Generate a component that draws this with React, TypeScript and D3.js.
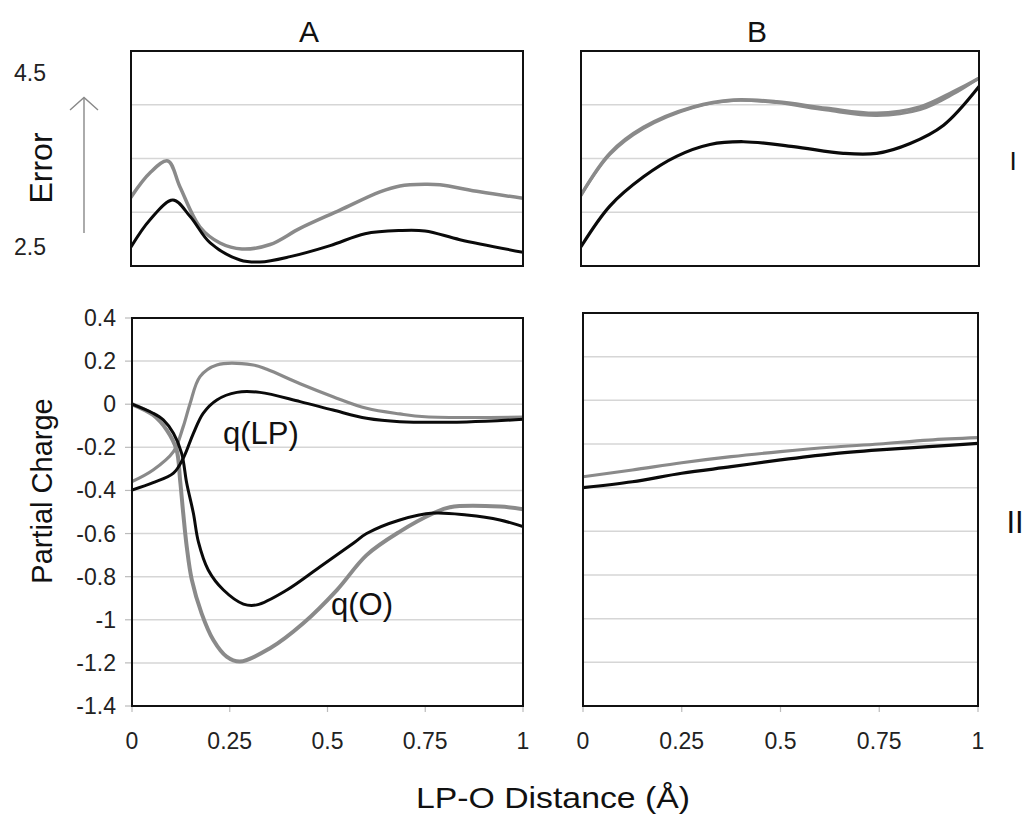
import React from 'react';
import * as d3 from 'd3';

// ---------- data ----------
const xTicks = [0, 0.25, 0.5, 0.75, 1];
const chargeTicks = [0.4, 0.2, 0, -0.2, -0.4, -0.6, -0.8, -1, -1.2, -1.4];
const errorTicks = [2.5, 3, 3.5, 4, 4.5];

// Panel A, row I (Error)
const errA_gray_x = [0, 0.048, 0.094, 0.125, 0.176, 0.227, 0.283, 0.355, 0.431, 0.533, 0.635, 0.686, 0.75, 0.788, 0.89, 1.0];
const errA_gray = [3.14, 3.365, 3.477, 3.235, 2.863, 2.714, 2.658, 2.7, 2.85, 3.02, 3.19, 3.245, 3.26, 3.255, 3.19, 3.13];
const errA_black_x = [0, 0.048, 0.107, 0.151, 0.202, 0.278, 0.329, 0.406, 0.508, 0.597, 0.686, 0.75, 0.839, 1.0];
const errA_black = [2.677, 2.928, 3.114, 2.96, 2.714, 2.556, 2.537, 2.587, 2.69, 2.8, 2.83, 2.826, 2.745, 2.627];

// Panel B, row I (Error)
const errB_gray_x = [0, 0.073, 0.157, 0.282, 0.383, 0.492, 0.617, 0.743, 0.852, 0.935, 1.0];
const errB_gray = [3.16, 3.55, 3.79, 3.98, 4.044, 4.028, 3.967, 3.92, 3.98, 4.12, 4.246];
const errB_gray2 = [3.16, 3.54, 3.78, 3.975, 4.04, 4.02, 3.95, 3.9, 3.955, 4.1, 4.25];
const errB_black_x = [0, 0.073, 0.157, 0.24, 0.324, 0.408, 0.534, 0.659, 0.743, 0.827, 0.911, 1.0];
const errB_black = [2.68, 3.06, 3.33, 3.52, 3.63, 3.656, 3.61, 3.548, 3.548, 3.64, 3.81, 4.17];

// Panel A, row II (Partial charge)
const qLP_gray_x = [0, 0.054, 0.106, 0.131, 0.148, 0.174, 0.217, 0.31, 0.345, 0.43, 0.514, 0.6, 0.685, 0.75, 1.0];
const qLP_gray = [-0.359, -0.305, -0.22, -0.104, 0.0, 0.128, 0.182, 0.182, 0.162, 0.095, 0.035, -0.019, -0.045, -0.058, -0.06];
const qLP_black_x = [0, 0.054, 0.106, 0.131, 0.157, 0.182, 0.217, 0.268, 0.327, 0.43, 0.514, 0.6, 0.685, 0.856, 1.0];
const qLP_black = [-0.398, -0.364, -0.32, -0.251, -0.135, -0.042, 0.02, 0.055, 0.055, 0.012, -0.027, -0.065, -0.081, -0.082, -0.07];
const qO_gray_x = [0, 0.054, 0.089, 0.114, 0.123, 0.131, 0.14, 0.153, 0.178, 0.208, 0.242, 0.276, 0.353, 0.438, 0.524, 0.6, 0.685, 0.771, 0.813, 0.941, 1.0];
const qO_gray = [0, -0.05, -0.12, -0.212, -0.352, -0.506, -0.661, -0.815, -0.97, -1.094, -1.171, -1.194, -1.132, -1.016, -0.862, -0.7, -0.591, -0.506, -0.478, -0.475, -0.487];
const qO_black_x = [0, 0.054, 0.08, 0.106, 0.127, 0.14, 0.157, 0.17, 0.195, 0.234, 0.285, 0.319, 0.396, 0.481, 0.566, 0.6, 0.685, 0.771, 0.856, 0.941, 1.0];
const qO_black = [0, -0.042, -0.073, -0.135, -0.228, -0.367, -0.506, -0.64, -0.769, -0.862, -0.927, -0.931, -0.862, -0.754, -0.645, -0.6, -0.537, -0.505, -0.514, -0.537, -0.568];

// Panel B, row II (Partial charge)
const qB_x = [0, 0.125, 0.25, 0.375, 0.5, 0.625, 0.75, 0.875, 1.0];
const qB_gray = [-0.35, -0.319, -0.286, -0.258, -0.235, -0.215, -0.2, -0.182, -0.171];
const qB_black = [-0.4, -0.373, -0.334, -0.304, -0.273, -0.246, -0.227, -0.212, -0.197];

// ---------- styling ----------
const FONT = '"Liberation Sans", Arial, Helvetica, sans-serif';
const GRAY = '#8a8a8a';
const BLACK = '#0a0a0a';
const GRID = '#d6d6d6';

type Series = { xs: number[]; ys: number[]; color: string; width: number };

function Panel({ x0, x1, y0, y1, domain, ticks, series, yLabels, xLabels }: {
  x0: number; x1: number; y0: number; y1: number; domain: [number, number]; ticks: number[];
  series: Series[]; yLabels?: boolean; xLabels?: boolean;
}) {
  const xs = d3.scaleLinear().domain([0, 1]).range([x0, x1]);
  const ys = d3.scaleLinear().domain(domain).range([y1, y0]);
  const line = d3.line<[number, number]>().x(d => xs(d[0])).y(d => ys(d[1])).curve(d3.curveCatmullRom.alpha(0.5));
  const clipId = `clip-${x0}-${y0}`;
  return (
    <g>
      <defs>
        <clipPath id={clipId}><rect x={x0} y={y0} width={x1 - x0} height={y1 - y0} /></clipPath>
      </defs>
      {ticks.filter(t => t !== domain[0] && t !== domain[1]).map(t => (
        <line key={'g' + t} x1={x0} x2={x1} y1={ys(t)} y2={ys(t)} stroke={GRID} strokeWidth={1.5} />
      ))}
      {yLabels && ticks.map(t => (
        <g key={'yl' + t}>
          <line x1={x0 - 7} x2={x0} y1={ys(t)} y2={ys(t)} stroke="#bbb" strokeWidth={1.2} />
          <text x={x0 - 16} y={ys(t)} dy="0.35em" textAnchor="end" fontSize={23} fontFamily={FONT} fill="#222">{String(+t.toFixed(1))}</text>
        </g>
      ))}
      {xLabels && xTicks.map(t => (
        <g key={'xl' + t}>
          <line x1={xs(t)} x2={xs(t)} y1={y1} y2={y1 + 6} stroke="#bbb" strokeWidth={1.2} />
          <text x={xs(t)} y={y1 + 43} textAnchor="middle" fontSize={23} fontFamily={FONT} fill="#222">{String(t)}</text>
        </g>
      ))}
      <g clipPath={`url(#${clipId})`}>
        {series.map((s, i) => (
          <path key={i} d={line(s.xs.map((x, j) => [x, s.ys[j]] as [number, number])) || ''}
            fill="none" stroke={s.color} strokeWidth={s.width} strokeLinejoin="round" strokeLinecap="round" />
        ))}
      </g>
      <rect x={x0} y={y0} width={x1 - x0} height={y1 - y0} fill="none" stroke="#111" strokeWidth={2} />
    </g>
  );
}

export default function App() {
  const errDomain: [number, number] = [2.5, 4.5];
  const qDomain: [number, number] = [-1.4, 0.4];
  return (
    <svg width={1025} height={817} style={{ position: 'absolute', left: 0, top: 0, background: '#fff' }}>
      <rect width={1025} height={817} fill="#fff" />
      {/* column titles */}
      <text x={309} y={42} textAnchor="middle" fontSize={30} fontFamily={FONT} fill="#111">A</text>
      <text x={757} y={42} textAnchor="middle" fontSize={30} fontFamily={FONT} fill="#111">B</text>
      {/* row labels */}
      <text x={1013} y={170} textAnchor="middle" fontSize={26} fontFamily={FONT} fill="#111">I</text>
      <text x={1015} y={533} textAnchor="middle" fontSize={31} fontFamily={FONT} fill="#111">II</text>

      {/* Error axis annotations */}
      <text x={30} y={73} dy="0.35em" textAnchor="middle" fontSize={23} fontFamily={FONT} fill="#222">4.5</text>
      <text x={30} y={247} dy="0.35em" textAnchor="middle" fontSize={23} fontFamily={FONT} fill="#222">2.5</text>
      <line x1={84} x2={84} y1={233} y2={98} stroke="#888" strokeWidth={1.4} />
      <polyline points="70,110 84,97.5 98,110" fill="none" stroke="#888" strokeWidth={1.4} />
      <text transform="translate(52,168) rotate(-90)" textAnchor="middle" fontSize={32} fontFamily={FONT} fill="#111">Error</text>
      <text transform="translate(52,491) rotate(-90)" textAnchor="middle" fontSize={29} fontFamily={FONT} fill="#111">Partial Charge</text>

      <Panel x0={131} x1={523} y0={51} y1={266} domain={errDomain} ticks={errorTicks}
        series={[
          { xs: errA_gray_x, ys: errA_gray, color: GRAY, width: 3.5 },
          { xs: errA_black_x, ys: errA_black, color: BLACK, width: 3 },
        ]} />
      <Panel x0={581} x1={979} y0={51} y1={266} domain={errDomain} ticks={errorTicks}
        series={[
          { xs: errB_gray_x, ys: errB_gray, color: GRAY, width: 3.5 },
          { xs: errB_gray_x, ys: errB_gray2, color: GRAY, width: 3 },
          { xs: errB_black_x, ys: errB_black, color: BLACK, width: 3.2 },
        ]} />
      <Panel x0={132} x1={523} y0={318} y1={706} domain={qDomain} ticks={chargeTicks} yLabels xLabels
        series={[
          { xs: qLP_gray_x, ys: qLP_gray, color: GRAY, width: 3.2 },
          { xs: qO_gray_x, ys: qO_gray, color: GRAY, width: 4 },
          { xs: qLP_black_x, ys: qLP_black, color: BLACK, width: 3 },
          { xs: qO_black_x, ys: qO_black, color: BLACK, width: 3 },
        ]} />
      <Panel x0={583} x1={978} y0={313} y1={706} domain={qDomain} ticks={chargeTicks} xLabels
        series={[
          { xs: qB_x, ys: qB_gray, color: GRAY, width: 3.2 },
          { xs: qB_x, ys: qB_black, color: BLACK, width: 3.2 },
        ]} />

      {/* series annotations */}
      <text x={223} y={444} fontSize={31} fontFamily={FONT} fill="#111">q(LP)</text>
      <text x={331} y={615} fontSize={31} fontFamily={FONT} fill="#111">q(O)</text>

      <text x={416} y={808} fontSize={30} fontFamily={FONT} fill="#111" textLength={274} lengthAdjust="spacingAndGlyphs">LP-O Distance (Å)</text>
    </svg>
  );
}
